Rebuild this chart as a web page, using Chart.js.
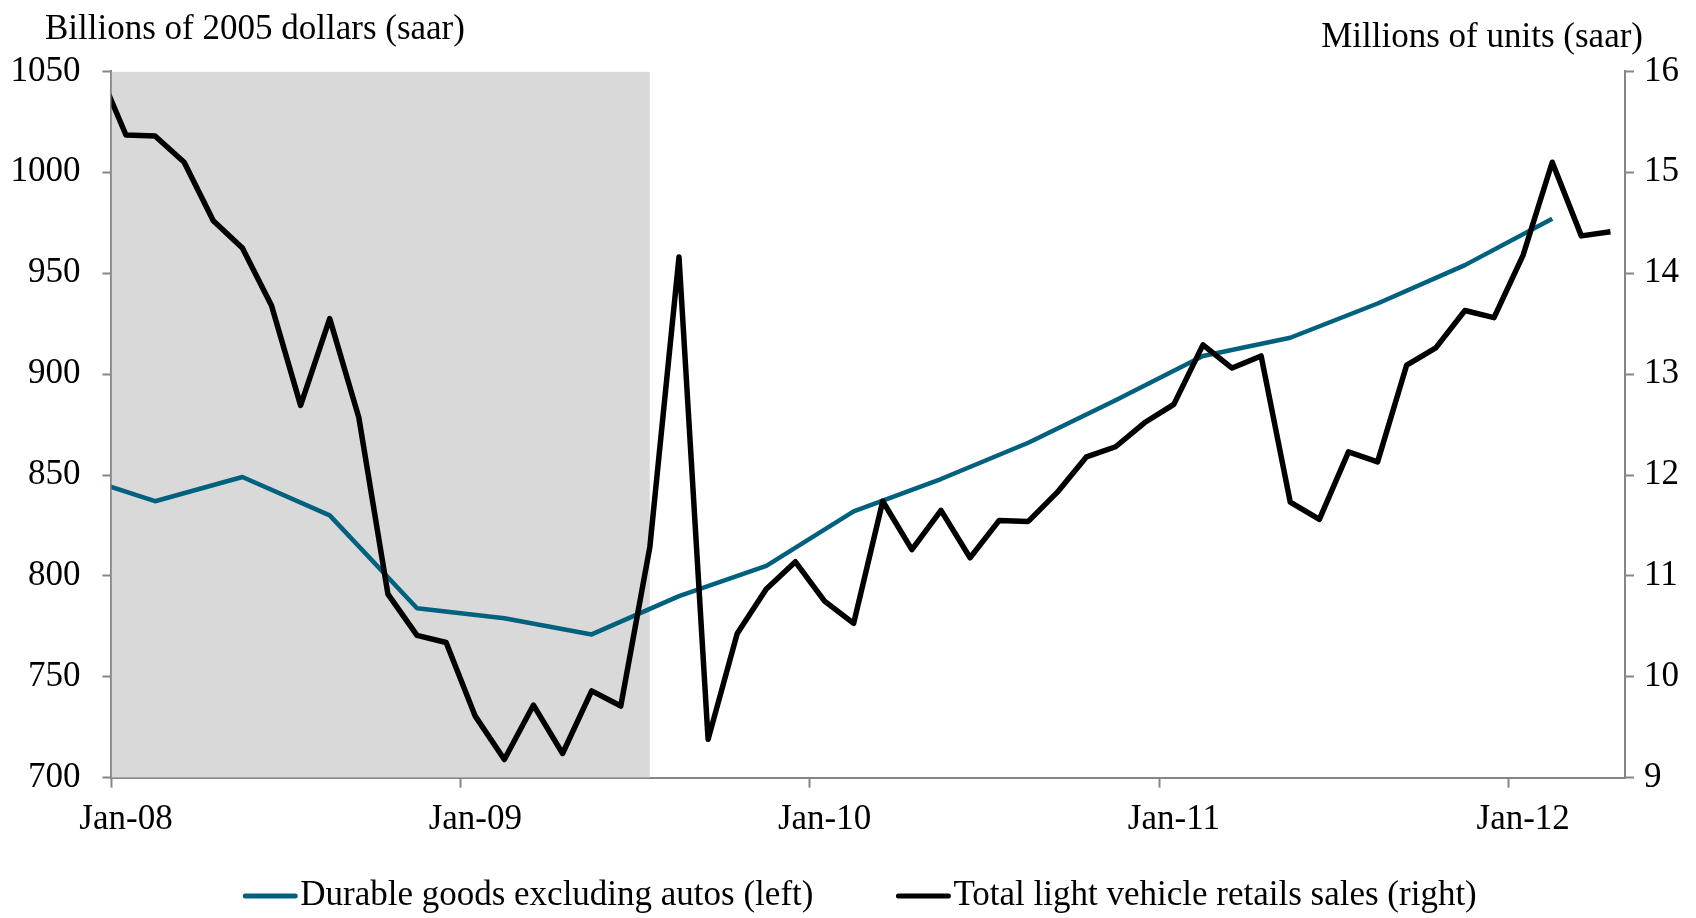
<!DOCTYPE html>
<html>
<head>
<meta charset="utf-8">
<script src="https://cdn.jsdelivr.net/npm/chart.js@4.4.1/dist/chart.umd.min.js"></script>
<style>
  html, body { margin: 0; padding: 0; background: #fff; }
  #wrap { width: 1696px; height: 918px; position: relative; }
</style>
</head>
<body>
<div id="wrap"><canvas id="chart"></canvas></div>
<script>
// ── Data ────────────────────────────────────────────────────
// month index 0 = Jan-08; monthly points sit mid-month, quarterly mid-quarter
const tickMonths = [0, 12, 24, 36, 48];
const tickLabels = ["Jan-08", "Jan-09", "Jan-10", "Jan-11", "Jan-12"];

// Durable goods excluding autos, quarterly, Q4-07 .. Q1-12 (billions of 2005 $)
const durableQuarterStart = -1;   // Q4-07
const durableGoods = [851, 837, 849, 830, 784, 779, 771, 790, 805,
                      832, 848, 866, 887, 909, 918, 935, 954, 977];

// Total light vehicle retail sales, monthly, Dec-07 .. Apr-12 (millions of units)
const vehicleMonthStart = -1;     // Dec-07
const vehicleSales = [16.05,
  15.37, 15.36, 15.10, 14.52, 14.25, 13.68, 12.69, 13.55, 12.57, 10.82, 10.41, 10.34,
   9.61,  9.18,  9.72,  9.24,  9.86,  9.71, 11.29, 14.16,  9.38, 10.43, 10.87, 11.14,
  10.75, 10.53, 11.74, 11.26, 11.65, 11.18, 11.55, 11.54, 11.83, 12.18, 12.28, 12.52,
  12.70, 13.29, 13.06, 13.18, 11.73, 11.56, 12.23, 12.13, 13.09, 13.26, 13.63, 13.56,
  14.18, 15.10, 14.37, 14.41];

const recession = [0, 18.5];      // Jan-08 .. mid Jun-09

// ── Styling ─────────────────────────────────────────────────
const FONT    = "'Liberation Serif', 'Times New Roman', serif";
const FSIZE   = 35;
const BLUE    = "#00617f";
const AXIS    = "#868686";
const SHADE   = "#d9d9d9";

const durablePts = durableGoods.map((v, i) => ({ x: (durableQuarterStart + i) * 3 + 1.5, y: v }));
const vehiclePts = vehicleSales.map((v, i) => ({ x: vehicleMonthStart + i + 0.5, y: v }));

// horizontal unit captions above each value axis
const captions = {
    id: "captions",
    afterDraw(chart) {
        const ctx = chart.ctx;
        ctx.save();
        ctx.font = FSIZE + "px " + FONT;
        ctx.fillStyle = "#000";
        ctx.textBaseline = "alphabetic";
        ctx.textAlign = "left";
        ctx.fillText("Billions of 2005 dollars (saar)", 45, 39);
        ctx.textAlign = "right";
        ctx.fillText("Millions of units (saar)", 1643, 47);
        ctx.restore();
    }
};

// bottom key: line swatch right against its text, centred under the plot
const seriesKey = {
    id: "seriesKey",
    afterDraw(chart) {
        const ctx = chart.ctx;
        const items = chart.data.datasets.filter(d => d.inKey);
        const swatch = 54, gap = 3, between = 83, cy = 896;
        ctx.save();
        ctx.font = FSIZE + "px " + FONT;
        const widths = items.map(d => ctx.measureText(d.label).width);
        const total = widths.reduce((a, w) => a + swatch + gap + w, 0) + between * (items.length - 1);
        let x = 860 - total / 2;
        items.forEach((d, i) => {
            ctx.strokeStyle = d.borderColor;
            ctx.lineWidth = 5;
            ctx.lineCap = "round";
            ctx.beginPath();
            ctx.moveTo(x + 2, cy);
            ctx.lineTo(x + swatch - 2, cy);
            ctx.stroke();
            x += swatch + gap;
            ctx.fillStyle = "#000";
            ctx.textAlign = "left";
            ctx.textBaseline = "middle";
            ctx.fillText(d.label, x, cy);
            x += widths[i] + between;
        });
        ctx.restore();
    }
};

const axisGrid = { drawOnChartArea: false, drawTicks: true, tickLength: 9, tickColor: AXIS, tickWidth: 2 };
const axisBorder = { display: true, color: AXIS, width: 2 };
const tickFont = { family: FONT, size: FSIZE };

new Chart(document.getElementById("chart"), {
    type: "line",
    data: {
        datasets: [
            {
                label: "Durable goods excluding autos (left)",
                inKey: true,
                data: durablePts,
                yAxisID: "y",
                borderColor: BLUE,
                borderWidth: 4.5,
                pointRadius: 0,
                tension: 0,
                borderJoinStyle: "round",
                clip: 0,
                order: 1
            },
            {
                label: "Total light vehicle retails sales (right)",
                inKey: true,
                data: vehiclePts,
                yAxisID: "y1",
                borderColor: "#000",
                borderWidth: 5.5,
                pointRadius: 0,
                tension: 0,
                borderJoinStyle: "round",
                clip: 0,
                order: 0
            },
            {
                label: "recession",
                data: recession.map(x => ({ x, y: 1050 })),
                yAxisID: "y",
                borderWidth: 0,
                backgroundColor: SHADE,
                pointRadius: 0,
                fill: "start",
                clip: 0,
                order: 2
            }
        ]
    },
    options: {
        responsive: true,
        maintainAspectRatio: false,
        animation: false,
        layout: { padding: { left: 0, top: 71.4, right: 0, bottom: 0 } },
        plugins: {
            tooltip: { enabled: false },
            legend: { display: false }
        },
        scales: {
            x: {
                type: "linear",
                min: 0,
                max: 52,
                afterBuildTicks: s => { s.ticks = tickMonths.map(v => ({ value: v })); },
                afterFit: s => { s.height = 140.3; },
                ticks: {
                    autoSkip: false,
                    maxRotation: 0,
                    labelOffset: 14.6,
                    padding: 11,
                    color: "#000",
                    font: tickFont,
                    callback: (v, i) => tickLabels[i]
                },
                grid: { ...axisGrid, tickLength: 10 },
                border: axisBorder
            },
            y: {
                position: "left",
                min: 700,
                max: 1050,
                afterFit: s => { s.width = 111.4; },
                ticks: {
                    stepSize: 50,
                    padding: 22,
                    color: "#000",
                    font: tickFont,
                    callback: v => String(v)
                },
                grid: axisGrid,
                border: axisBorder
            },
            y1: {
                position: "right",
                min: 9,
                max: 16,
                afterFit: s => { s.width = 71; },
                ticks: {
                    stepSize: 1,
                    padding: 10,
                    color: "#000",
                    font: tickFont,
                    callback: v => String(v)
                },
                grid: axisGrid,
                border: axisBorder
            }
        }
    },
    plugins: [captions, seriesKey]
});
</script>
</body>
</html>
